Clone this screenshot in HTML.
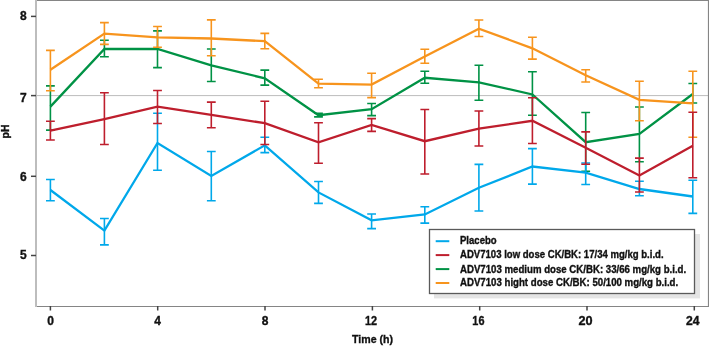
<!DOCTYPE html>
<html><head><meta charset="utf-8"><style>
html,body{margin:0;padding:0;background:#fff;width:709px;height:346px;overflow:hidden}
svg{display:block}
text{font-family:"Liberation Sans",sans-serif;font-weight:bold;fill:#111;stroke:#111;stroke-width:0.35px}
svg{will-change:transform}
.tk{font-size:12px}
.lb{font-size:11.7px}
.ph{font-size:10.5px}
.lg{font-size:10.4px}
</style></head><body>
<svg width="709" height="346" viewBox="0 0 709 346">
<defs><filter id="blur" x="-5%" y="-20%" width="110%" height="140%"><feGaussianBlur stdDeviation="0.6"/></filter></defs>
<line x1="36" y1="95.6" x2="708" y2="95.6" stroke="#bcbcbc" stroke-width="1"/>
<path d="M50.4 85.9V130.1M46.0 85.9h8.8M46.0 130.1h8.8M104.4 40.3V56.8M100.0 40.3h8.8M100.0 56.8h8.8M157.5 30.9V67.6M153.1 30.9h8.8M153.1 67.6h8.8M211.3 49.0V81.5M206.9 49.0h8.8M206.9 81.5h8.8M264.8 70.1V85.1M260.4 70.1h8.8M260.4 85.1h8.8M318.5 113.3V116.9M314.1 113.3h8.8M314.1 116.9h8.8M371.6 103.5V115.6M367.2 103.5h8.8M367.2 115.6h8.8M424.8 71.2V83.3M420.4 71.2h8.8M420.4 83.3h8.8M478.9 65.2V100.2M474.5 65.2h8.8M474.5 100.2h8.8M532.4 71.7V115.3M528.0 71.7h8.8M528.0 115.3h8.8M585.7 112.5V171.3M581.3 112.5h8.8M581.3 171.3h8.8M639.4 107.0V161.7M635.0 107.0h8.8M635.0 161.7h8.8M692.8 83.5V103.0M688.4 83.5h8.8M688.4 103.0h8.8" stroke="#009245" stroke-width="1.6" fill="none"/>
<polyline points="50.4,106.6 104.4,49.0 157.5,49.0 211.3,65.4 264.8,78.3 318.5,115.2 371.6,109.2 424.8,77.8 478.9,82.3 532.4,94.5 585.7,142.2 639.4,134.0 692.8,94.0" stroke="#009245" stroke-width="2.3" fill="none" stroke-linejoin="miter"/>
<path d="M50.4 50.4V90.8M46.0 50.4h8.8M46.0 90.8h8.8M104.4 22.6V44.4M100.0 22.6h8.8M100.0 44.4h8.8M157.5 26.5V47.3M153.1 26.5h8.8M153.1 47.3h8.8M211.3 19.9V55.8M206.9 19.9h8.8M206.9 55.8h8.8M264.8 33.4V48.8M260.4 33.4h8.8M260.4 48.8h8.8M318.5 79.3V87.7M314.1 79.3h8.8M314.1 87.7h8.8M371.6 73.3V97.6M367.2 73.3h8.8M367.2 97.6h8.8M424.8 49.2V63.2M420.4 49.2h8.8M420.4 63.2h8.8M478.9 20.0V36.5M474.5 20.0h8.8M474.5 36.5h8.8M532.4 37.2V59.1M528.0 37.2h8.8M528.0 59.1h8.8M585.7 69.7V82.0M581.3 69.7h8.8M581.3 82.0h8.8M639.4 81.3V120.8M635.0 81.3h8.8M635.0 120.8h8.8M692.8 71.3V137.2M688.4 71.3h8.8M688.4 137.2h8.8" stroke="#F7941D" stroke-width="1.6" fill="none"/>
<polyline points="50.4,69.7 104.4,33.6 157.5,37.3 211.3,38.5 264.8,41.2 318.5,83.6 371.6,84.6 424.8,56.4 478.9,28.7 532.4,48.3 585.7,75.2 639.4,99.8 692.8,103.4" stroke="#F7941D" stroke-width="2.3" fill="none" stroke-linejoin="miter"/>
<path d="M50.4 179.5V200.7M46.0 179.5h8.8M46.0 200.7h8.8M104.4 218.5V244.9M100.0 218.5h8.8M100.0 244.9h8.8M157.5 113.2V170.2M153.1 113.2h8.8M153.1 170.2h8.8M211.3 151.5V200.7M206.9 151.5h8.8M206.9 200.7h8.8M264.8 137.3V152.6M260.4 137.3h8.8M260.4 152.6h8.8M318.5 181.5V203.4M314.1 181.5h8.8M314.1 203.4h8.8M371.6 214.0V228.6M367.2 214.0h8.8M367.2 228.6h8.8M424.8 206.7V223.1M420.4 206.7h8.8M420.4 223.1h8.8M478.9 164.4V211.0M474.5 164.4h8.8M474.5 211.0h8.8M532.4 148.6V184.1M528.0 148.6h8.8M528.0 184.1h8.8M585.7 163.0V184.5M581.3 163.0h8.8M581.3 184.5h8.8M639.4 181.3V195.8M635.0 181.3h8.8M635.0 195.8h8.8M692.8 180.2V213.4M688.4 180.2h8.8M688.4 213.4h8.8" stroke="#00A8EA" stroke-width="1.6" fill="none"/>
<polyline points="50.4,190.0 104.4,230.6 157.5,143.0 211.3,176.0 264.8,145.3 318.5,192.4 371.6,220.3 424.8,214.5 478.9,187.8 532.4,166.5 585.7,172.6 639.4,189.0 692.8,196.5" stroke="#00A8EA" stroke-width="2.3" fill="none" stroke-linejoin="miter"/>
<path d="M50.4 121.3V140.0M46.0 121.3h8.8M46.0 140.0h8.8M104.4 92.8V144.5M100.0 92.8h8.8M100.0 144.5h8.8M157.5 90.5V123.5M153.1 90.5h8.8M153.1 123.5h8.8M211.3 102.1V127.8M206.9 102.1h8.8M206.9 127.8h8.8M264.8 101.2V144.5M260.4 101.2h8.8M260.4 144.5h8.8M318.5 122.8V163.2M314.1 122.8h8.8M314.1 163.2h8.8M371.6 118.6V131.4M367.2 118.6h8.8M367.2 131.4h8.8M424.8 109.5V174.0M420.4 109.5h8.8M420.4 174.0h8.8M478.9 111.0V146.0M474.5 111.0h8.8M474.5 146.0h8.8M532.4 97.7V143.5M528.0 97.7h8.8M528.0 143.5h8.8M585.7 131.9V164.2M581.3 131.9h8.8M581.3 164.2h8.8M639.4 158.1V192.0M635.0 158.1h8.8M635.0 192.0h8.8M692.8 112.2V177.8M688.4 112.2h8.8M688.4 177.8h8.8" stroke="#BE1E2D" stroke-width="1.6" fill="none"/>
<polyline points="50.4,130.7 104.4,119.1 157.5,106.7 211.3,114.8 264.8,123.2 318.5,142.4 371.6,124.9 424.8,141.2 478.9,128.6 532.4,120.8 585.7,147.8 639.4,175.5 692.8,145.8" stroke="#BE1E2D" stroke-width="2.3" fill="none" stroke-linejoin="miter"/>
<path d="M35 0.5H708.5V306.5H35" stroke="#858585" stroke-width="1.2" fill="none"/>
<line x1="36" y1="0" x2="36" y2="307" stroke="#bdbdbd" stroke-width="2"/>
<line x1="31" y1="16.4" x2="36" y2="16.4" stroke="#444" stroke-width="1.5"/>
<text x="26.6" y="20.2" text-anchor="end" class="tk">8</text>
<line x1="31" y1="95.6" x2="36" y2="95.6" stroke="#444" stroke-width="1.5"/>
<text x="26.6" y="101.6" text-anchor="end" class="tk">7</text>
<line x1="31" y1="176.3" x2="36" y2="176.3" stroke="#444" stroke-width="1.5"/>
<text x="26.6" y="181" text-anchor="end" class="tk">6</text>
<line x1="31" y1="255.5" x2="36" y2="255.5" stroke="#444" stroke-width="1.5"/>
<text x="26.6" y="259" text-anchor="end" class="tk">5</text>
<line x1="50.4" y1="306" x2="50.4" y2="310.5" stroke="#444" stroke-width="1.5"/>
<text x="50.7" y="325.1" text-anchor="middle" class="tk">0</text>
<line x1="157.7" y1="306" x2="157.7" y2="310.5" stroke="#444" stroke-width="1.5"/>
<text x="157.6" y="325.1" text-anchor="middle" class="tk">4</text>
<line x1="265.0" y1="306" x2="265.0" y2="310.5" stroke="#444" stroke-width="1.5"/>
<text x="265.1" y="325.1" text-anchor="middle" class="tk">8</text>
<line x1="372.4" y1="306" x2="372.4" y2="310.5" stroke="#444" stroke-width="1.5"/>
<text x="371.0" y="325.1" text-anchor="middle" class="tk" textLength="12.1" lengthAdjust="spacingAndGlyphs">12</text>
<line x1="479.7" y1="306" x2="479.7" y2="310.5" stroke="#444" stroke-width="1.5"/>
<text x="478.4" y="325.1" text-anchor="middle" class="tk" textLength="12.1" lengthAdjust="spacingAndGlyphs">16</text>
<line x1="587.0" y1="306" x2="587.0" y2="310.5" stroke="#444" stroke-width="1.5"/>
<text x="585.5" y="325.1" text-anchor="middle" class="tk" textLength="14.1" lengthAdjust="spacingAndGlyphs">20</text>
<line x1="694.3" y1="306" x2="694.3" y2="310.5" stroke="#444" stroke-width="1.5"/>
<text x="692.8" y="325.1" text-anchor="middle" class="tk" textLength="13.5" lengthAdjust="spacingAndGlyphs">24</text>
<text x="352.0" y="343.2" class="lb" textLength="41" lengthAdjust="spacingAndGlyphs">Time (h)</text>
<text transform="translate(8.6,131.5) rotate(-90)" text-anchor="middle" class="ph">pH</text>
<rect x="434" y="234" width="266" height="64.4" fill="#e4e4e4" filter="url(#blur)"/>
<rect x="429.5" y="229.5" width="265" height="64" fill="#fff" stroke="#5a5a5a" stroke-width="1.3"/>
<line x1="435.7" y1="241.2" x2="449.3" y2="241.2" stroke="#00A8EA" stroke-width="2"/>
<text x="460" y="244.0" class="lg" textLength="36.6" lengthAdjust="spacingAndGlyphs">Placebo</text>
<line x1="435.7" y1="255.1" x2="449.3" y2="255.1" stroke="#BE1E2D" stroke-width="2"/>
<text x="460" y="258.3" class="lg" textLength="203.6" lengthAdjust="spacingAndGlyphs">ADV7103 low dose CK/BK: 17/34 mg/kg b.i.d.</text>
<line x1="435.7" y1="269.1" x2="449.3" y2="269.1" stroke="#009245" stroke-width="2"/>
<text x="460" y="272.8" class="lg" textLength="226.2" lengthAdjust="spacingAndGlyphs">ADV7103 medium dose CK/BK: 33/66 mg/kg b.i.d.</text>
<line x1="435.7" y1="283.0" x2="449.3" y2="283.0" stroke="#F7941D" stroke-width="2"/>
<text x="460" y="286.3" class="lg" textLength="218.2" lengthAdjust="spacingAndGlyphs">ADV7103 hight dose CK/BK: 50/100 mg/kg b.i.d.</text>
</svg></body></html>
